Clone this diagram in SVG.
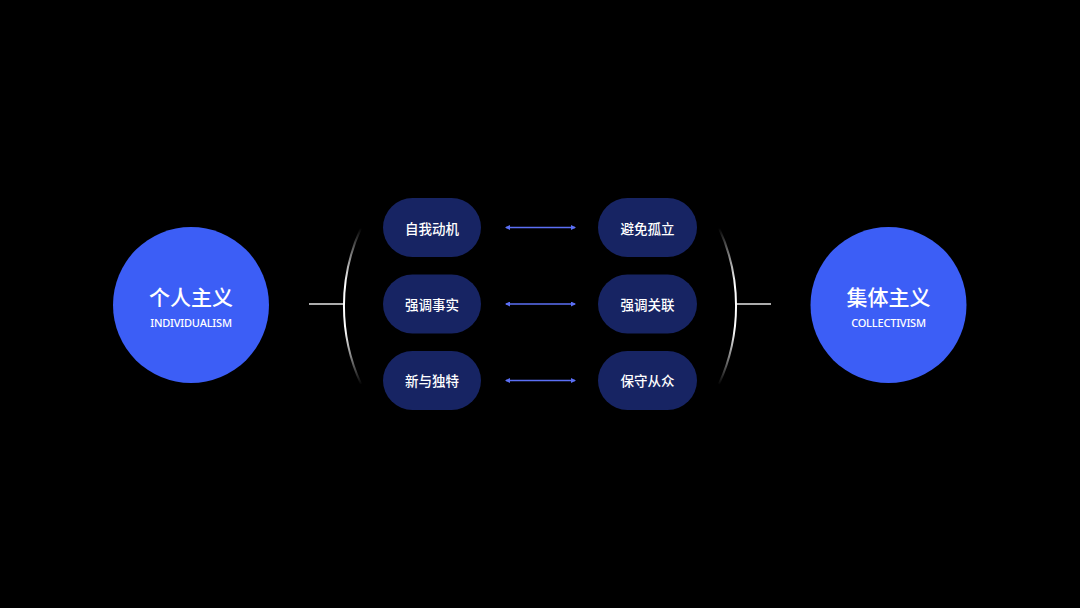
<svg xmlns="http://www.w3.org/2000/svg" width="1080" height="608" viewBox="0 0 1080 608">
<defs>
<style>
.big{fill:#3c5ef6}
.pill{fill:#172463}
.t{font-family:"Noto Sans CJK SC","Noto Sans",sans-serif;fill:#ffffff;text-anchor:middle;dominant-baseline:central}
.title{font-size:21px;font-weight:500}
.sub{font-size:11px;font-weight:500;letter-spacing:-0.2px;font-family:"Noto Sans","Noto Sans CJK SC",sans-serif}
.pt{font-size:13.5px;font-weight:500}
.arr{stroke:#5b6ff5;stroke-width:1.5;fill:none;marker-start:url(#ah);marker-end:url(#ah)}
.ln{stroke:#e6e6e6;stroke-width:1.6;fill:none}
</style>
<marker id="ah" viewBox="0 0 10 10" refX="8" refY="5" markerWidth="5" markerHeight="5" orient="auto-start-reverse" markerUnits="userSpaceOnUse">
<path d="M0,0 L10,5 L0,10 z" fill="#5b6ff5"/>
</marker>
<linearGradient id="fade" gradientUnits="userSpaceOnUse" x1="0" y1="228" x2="0" y2="385">
<stop offset="0" stop-color="#ffffff" stop-opacity="0"/>
<stop offset="0.35" stop-color="#ffffff" stop-opacity="1"/>
<stop offset="0.65" stop-color="#ffffff" stop-opacity="1"/>
<stop offset="1" stop-color="#ffffff" stop-opacity="0"/>
</linearGradient>
</defs>
<rect width="1080" height="608" fill="#000000"/>
<g id="connectors">
<path d="M309,304 H344" class="ln"/>
<path d="M361,228 A187,187 0 0 0 361,384" stroke="url(#fade)" stroke-width="2" fill="none"/>
<path d="M771,304 H736" class="ln"/>
<path d="M719,228 A187,187 0 0 1 719,384" stroke="url(#fade)" stroke-width="2" fill="none"/>
<path d="M506,227.5 H575" class="arr"/>
<path d="M506,304 H575" class="arr"/>
<path d="M506,380.5 H575" class="arr"/>
</g>
<g id="individualism">
<circle cx="191" cy="305" r="78" class="big"/>
<text x="191" y="296" class="t title">个人主义</text>
<text x="191" y="322" class="t sub">INDIVIDUALISM</text>
</g>
<g id="collectivism">
<circle cx="888.5" cy="305" r="78" class="big"/>
<text x="888.5" y="296" class="t title">集体主义</text>
<text x="888.5" y="322" class="t sub">COLLECTIVISM</text>
</g>
<g id="l1"><rect x="383" y="198" width="98" height="59" rx="29.5" class="pill"/><text x="432" y="227.5" class="t pt">自我动机</text></g>
<g id="l2"><rect x="383" y="274.5" width="98" height="59" rx="29.5" class="pill"/><text x="432" y="303.5" class="t pt">强调事实</text></g>
<g id="l3"><rect x="383" y="351" width="98" height="59" rx="29.5" class="pill"/><text x="432" y="380" class="t pt">新与独特</text></g>
<g id="r1"><rect x="598" y="198" width="99" height="59" rx="29.5" class="pill"/><text x="647.5" y="227.5" class="t pt">避免孤立</text></g>
<g id="r2"><rect x="598" y="274.5" width="99" height="59" rx="29.5" class="pill"/><text x="647.5" y="303.5" class="t pt">强调关联</text></g>
<g id="r3"><rect x="598" y="351" width="99" height="59" rx="29.5" class="pill"/><text x="647.5" y="380" class="t pt">保守从众</text></g>
</svg>
